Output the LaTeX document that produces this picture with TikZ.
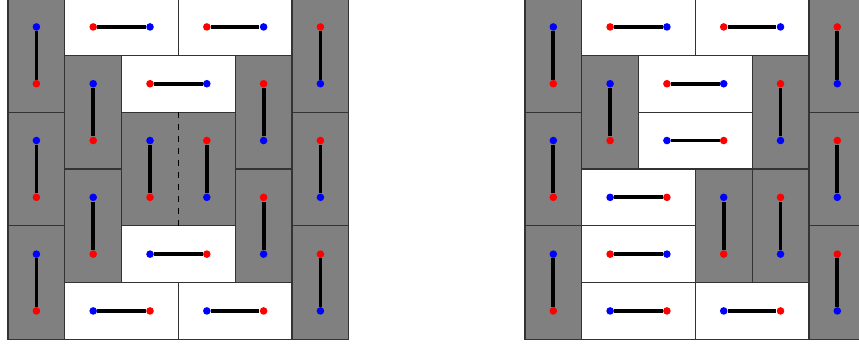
\documentclass[tikz,border=0pt]{standalone}
\usepackage{tikz}

\begin{document}
\begin{tikzpicture}[
    vtile/.style={draw=black!80, fill=gray, line width=0.6pt},
    htile/.style={draw=black!80, fill=white, line width=0.6pt},
    bond/.style={line width=1.9pt, black},
    dot/.style={circle, inner sep=0pt, minimum size=3.8pt}
]
\useasboundingbox (-0.141,-0.1) rectangle (14.982,5.974);

% left tiling
\begin{scope}
\foreach \c/\r in {0/0,0/2,0/4,5/0,5/2,5/4,1/1,1/3,4/1,4/3}
    \draw[vtile] (\c,\r) rectangle ++(1,2);
\foreach \c/\r in {1/5,3/5,2/4,2/1,1/0,3/0}
    \draw[htile] (\c,\r) rectangle ++(2,1);
\draw[vtile] (2,2) rectangle ++(2,2);
\draw[dashed, thin] (3,2) -- (3,4);
% dimers
\foreach \c/\r in {0/0,0/2,0/4,5/0,5/2,5/4,1/1,1/3,4/1,4/3,2/2,3/2} {
    \pgfmathtruncatemacro\odd{mod(\c+\r,2)}
    \ifnum\odd=1 \def\ca{blue}\def\cb{red}\else\def\ca{red}\def\cb{blue}\fi
    \pgfmathtruncatemacro\rr{\r+1}
    \node[dot, fill=\ca] (l\c\r) at (\c+.5,\r+.5) {};
    \node[dot, fill=\cb] (l\c\rr) at (\c+.5,\r+1.5) {};
    \draw[bond] (l\c\r) -- (l\c\rr);
}
\foreach \c/\r in {1/5,3/5,2/4,2/1,1/0,3/0} {
    \pgfmathtruncatemacro\odd{mod(\c+\r,2)}
    \ifnum\odd=1 \def\ca{blue}\def\cb{red}\else\def\ca{red}\def\cb{blue}\fi
    \pgfmathtruncatemacro\cc{\c+1}
    \node[dot, fill=\ca] (l\c\r) at (\c+.5,\r+.5) {};
    \node[dot, fill=\cb] (l\cc\r) at (\c+1.5,\r+.5) {};
    \draw[bond] (l\c\r) -- (l\cc\r);
}
\end{scope}

% right tiling
\begin{scope}[xshift=9.1cm]
\foreach \c/\r in {0/0,0/2,0/4,5/0,5/2,5/4,1/3,4/3,3/1,4/1}
    \draw[vtile] (\c,\r) rectangle ++(1,2);
\foreach \c/\r in {1/5,3/5,2/4,2/3,1/2,1/1,1/0,3/0}
    \draw[htile] (\c,\r) rectangle ++(2,1);
% dimers
\foreach \c/\r in {0/0,0/2,0/4,5/0,5/2,5/4,1/3,4/3,3/1,4/1} {
    \pgfmathtruncatemacro\odd{mod(\c+\r,2)}
    \ifnum\odd=1 \def\ca{blue}\def\cb{red}\else\def\ca{red}\def\cb{blue}\fi
    \pgfmathtruncatemacro\rr{\r+1}
    \node[dot, fill=\ca] (r\c\r) at (\c+.5,\r+.5) {};
    \node[dot, fill=\cb] (r\c\rr) at (\c+.5,\r+1.5) {};
    \draw[bond] (r\c\r) -- (r\c\rr);
}
\foreach \c/\r in {1/5,3/5,2/4,2/3,1/2,1/1,1/0,3/0} {
    \pgfmathtruncatemacro\odd{mod(\c+\r,2)}
    \ifnum\odd=1 \def\ca{blue}\def\cb{red}\else\def\ca{red}\def\cb{blue}\fi
    \pgfmathtruncatemacro\cc{\c+1}
    \node[dot, fill=\ca] (r\c\r) at (\c+.5,\r+.5) {};
    \node[dot, fill=\cb] (r\cc\r) at (\c+1.5,\r+.5) {};
    \draw[bond] (r\c\r) -- (r\cc\r);
}
\end{scope}
\end{tikzpicture}
\end{document}
